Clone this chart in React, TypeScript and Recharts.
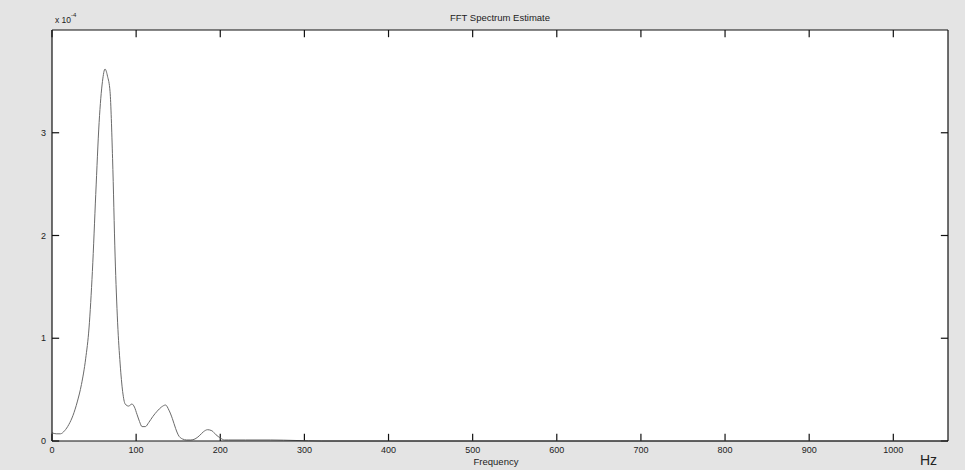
import React from 'react';
import {
  ComposedChart,
  Line,
  XAxis,
  YAxis,
  ReferenceLine,
} from 'recharts';

// frequency (Hz) and power estimate (x 1e-4)
const freqHz = [
  0, 5, 10, 15, 20, 25, 30, 35, 40, 44, 48, 52, 56, 60, 63, 66, 69, 72, 75, 78,
  81, 84, 87, 91, 95, 98, 101, 104, 107, 111, 115, 120, 125, 130, 135, 139, 143,
  147, 150, 155, 160, 165, 170, 175, 180, 185, 190, 195, 200, 205, 210, 230, 260,
  290, 320, 400, 600, 800, 1000, 1065,
];
const power = [
  0.08, 0.07, 0.07, 0.1, 0.16, 0.25, 0.38, 0.55, 0.8, 1.1, 1.65, 2.4, 3.1, 3.5,
  3.62, 3.55, 3.4, 2.75, 1.8, 1.15, 0.75, 0.48, 0.36, 0.34, 0.36, 0.33, 0.26,
  0.19, 0.14, 0.14, 0.18, 0.24, 0.29, 0.33, 0.35, 0.3, 0.22, 0.12, 0.06, 0.02,
  0.01, 0.01, 0.02, 0.05, 0.09, 0.11, 0.1, 0.06, 0.03, 0.01, 0.01, 0.01, 0.01,
  0.005, 0, 0, 0, 0, 0, 0,
];

const xTicks = [0, 100, 200, 300, 400, 500, 600, 700, 800, 900, 1000];
const yTicks = [0, 1, 2, 3];

const data = freqHz.map((f, i) => ({ f, p: power[i] }));

const FONT = 'Liberation Sans, Arial, sans-serif';
const X_MAX = 1065;
const Y_MAX = 4;
// inward tick length, in data units (~7px)
const X_TICK_LEN = 8.5;
const Y_TICK_LEN = 0.07;

const tickFont = { fontSize: 9, fill: '#222', fontFamily: FONT };

const App: React.FC = () => {
  return (
    <div style={{ position: 'relative', width: 965, height: 470, background: '#e4e4e4', fontFamily: FONT, color: '#222' }}>
      <style>{'body{margin:0}'}</style>
      {/* white plot area behind the transparent svg */}
      <div style={{ position: 'absolute', left: 52, top: 30, width: 896, height: 411, background: '#fff' }} />
      <ComposedChart
        width={965}
        height={470}
        data={data}
        margin={{ top: 30, right: 17, left: 0, bottom: 0 }}
        style={{ position: 'absolute', left: 0, top: 0 }}
      >
        <XAxis
          dataKey="f"
          type="number"
          domain={[0, X_MAX]}
          ticks={xTicks}
          height={29}
          tick={tickFont}
          tickLine={false}
          tickSize={0}
          tickMargin={6}
          axisLine={{ stroke: '#111', strokeWidth: 1.2 }}
        />
        <XAxis
          xAxisId="t"
          dataKey="f"
          type="number"
          domain={[0, X_MAX]}
          orientation="top"
          mirror
          tick={false}
          tickLine={false}
          axisLine={{ stroke: '#111', strokeWidth: 1.2 }}
        />
        <YAxis
          type="number"
          domain={[0, Y_MAX]}
          ticks={yTicks}
          width={52}
          tick={tickFont}
          tickLine={false}
          tickSize={0}
          tickMargin={6}
          axisLine={{ stroke: '#111', strokeWidth: 1.2 }}
        />
        <YAxis
          yAxisId="r"
          type="number"
          domain={[0, Y_MAX]}
          orientation="right"
          mirror
          tick={false}
          tickLine={false}
          axisLine={{ stroke: '#111', strokeWidth: 1.2 }}
        />
        {xTicks.map((t) => (
          <ReferenceLine
            key={`xb${t}`}
            segment={[{ x: t, y: 0 }, { x: t, y: Y_TICK_LEN }]}
            stroke="#111"
            strokeWidth={1.2}
            ifOverflow="visible"
          />
        ))}
        {xTicks.map((t) => (
          <ReferenceLine
            key={`xt${t}`}
            segment={[{ x: t, y: Y_MAX }, { x: t, y: Y_MAX - Y_TICK_LEN }]}
            stroke="#111"
            strokeWidth={1.2}
            ifOverflow="visible"
          />
        ))}
        {yTicks.map((t) => (
          <ReferenceLine
            key={`yl${t}`}
            segment={[{ x: 0, y: t }, { x: X_TICK_LEN, y: t }]}
            stroke="#111"
            strokeWidth={1.2}
            ifOverflow="visible"
          />
        ))}
        {yTicks.map((t) => (
          <ReferenceLine
            key={`yr${t}`}
            segment={[{ x: X_MAX, y: t }, { x: X_MAX - X_TICK_LEN, y: t }]}
            stroke="#111"
            strokeWidth={1.2}
            ifOverflow="visible"
          />
        ))}
        <Line
          type="monotone"
          dataKey="p"
          stroke="#6a6a6a"
          strokeWidth={1}
          dot={false}
          isAnimationActive={false}
        />
      </ComposedChart>
      <div style={{ position: 'absolute', left: 0, width: 1000, top: 12, textAlign: 'center', fontSize: 9.5 }}>
        FFT Spectrum Estimate
      </div>
      <div style={{ position: 'absolute', left: 55, top: 15, fontSize: 8.5 }}>
        x 10<sup style={{ fontSize: 6, verticalAlign: 'top', position: 'relative', top: -3 }}>-4</sup>
      </div>
      <div style={{ position: 'absolute', left: 0, width: 992, top: 456, textAlign: 'center', fontSize: 9.5 }}>
        Frequency
      </div>
      <div style={{ position: 'absolute', left: 920, top: 452, fontSize: 14 }}>
        Hz
      </div>
    </div>
  );
};

export default App;
